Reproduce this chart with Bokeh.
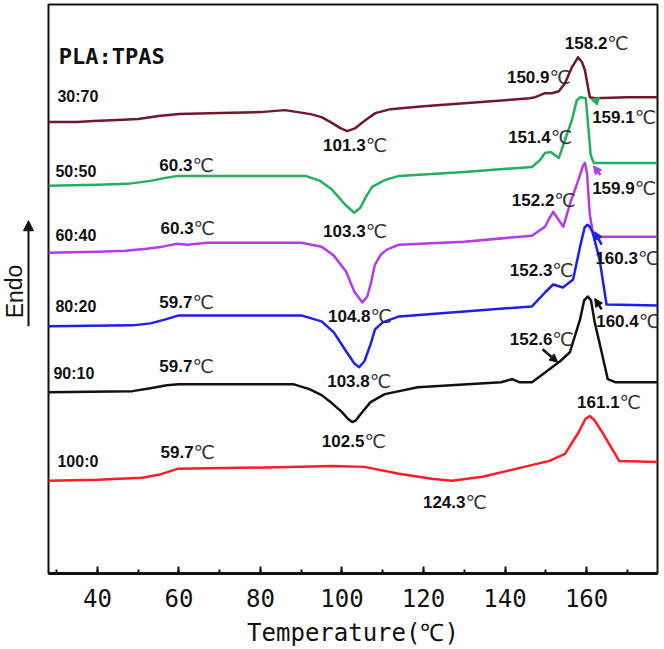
from bokeh.plotting import figure
from bokeh.layouts import row
from bokeh.models import Range1d, SingleIntervalTicker, Arrow, NormalHead
from bokeh.core.properties import value
from bokeh.embed import file_html
from bokeh.resources import INLINE

# ---- data (temperature in degC, heat flow in arbitrary offset units) ----
s3070_T = [28, 35, 39, 45, 50, 55, 60, 70, 80, 86, 92.3, 95, 97.2, 99.6, 101.3, 103.3, 105.8, 108.2, 111.9,
           120, 130, 140, 146, 147.4, 149.8, 151.5, 153.2, 154.7, 156.4, 157.9, 158.9, 159.6, 160.8, 162, 170, 177.4]
s3070_v = [45.3, 45.3, 45.4, 45.5, 45.6, 45.9, 46.1, 46.2, 46.3, 46.5, 46.1, 45.8, 45.3, 44.7, 44.4, 44.7, 45.5,
           46.2, 46.6, 46.9, 47.2, 47.5, 47.7, 47.8, 48.2, 48.2, 48.4, 49.2, 50.8, 51.8, 51.3, 50.5, 47.8, 47.7,
           47.8, 47.8]

s5050_T = [28, 40, 47.4, 53, 56.7, 59.6, 70, 91, 94.7, 97.6, 100.8, 103, 104.5, 106, 107.4, 110.6, 114, 130,
           146.6, 148.6, 149.8, 151.2, 153.2, 154.7, 156.4, 157.6, 158.5, 159.8, 160.5, 161, 161.8, 177.4]
s5050_v = [38.9, 39.0, 39.1, 39.4, 39.7, 39.9, 39.9, 39.9, 39.4, 38.5, 37.0, 36.2, 36.7, 37.9, 38.8, 39.5, 39.9,
           40.3, 40.8, 41.5, 42.2, 42.3, 41.7, 43.5, 45.5, 47.5, 47.8, 47.7, 44.5, 42.0, 41.2, 41.2]

s6040_T = [28, 40, 47, 52, 56, 59.6, 62, 67, 90, 95, 98, 101, 103, 105, 106.2, 107, 108.1, 109.5, 111, 114, 130,
           146.6, 149.8, 150.8, 151.8, 154.3, 156, 158, 159.1, 159.6, 160.1, 160.8, 161.5, 162.5, 177.4]
s6040_v = [32.2, 32.3, 32.4, 32.6, 32.8, 33.1, 33.0, 33.2, 33.2, 32.8, 31.9, 30.3, 28.3, 27.2, 27.8, 29.0, 31.0,
           32.0, 32.5, 33.0, 33.3, 33.9, 34.8, 35.6, 36.3, 34.8, 37.2, 39.5, 40.9, 41.2, 40.2, 36.0, 34.3, 33.8, 33.8]

s8020_T = [28, 48.6, 53, 56.7, 60, 90, 95, 98, 101, 103, 104.2, 105.5, 107, 108.1, 110, 114, 130, 146.6, 149.8,
           151.8, 154.2, 156.7, 158.4, 159.5, 160.2, 160.8, 161.5, 163.2, 164.9, 177.4]
s8020_v = [24.8, 24.9, 25.1, 25.5, 25.9, 25.9, 25.3, 24.2, 22.3, 21.1, 20.7, 21.3, 23.0, 24.5, 25.2, 25.8, 26.3,
           26.8, 28.2, 29.0, 28.7, 29.5, 32.8, 34.7, 35.0, 34.8, 34.2, 31.5, 27.0, 26.9]

s9010_T = [28, 48.6, 53, 57, 60, 88, 92, 95, 97.5, 100, 101.5, 102.5, 103.5, 104.2, 107, 110.5, 118.6, 139,
           141.7, 143.5, 146.6, 148.6, 153.5, 155.9, 158.4, 159.4, 160.3, 161.1, 162, 163.7, 165.2, 167, 177.4]
s9010_v = [18.2, 18.3, 18.6, 18.9, 19.0, 19.0, 18.5, 17.9, 17.1, 16.2, 15.5, 15.2, 15.4, 15.8, 17.2, 18.0, 18.7,
           19.2, 19.5, 19.2, 19.2, 19.8, 21.3, 22.2, 25.5, 27.4, 27.8, 27.4, 25.2, 22.2, 19.5, 19.2, 19.2]

s1000_T = [28, 40, 51, 55, 59.7, 75, 90, 97.6, 105.5, 114, 122, 127, 134.5, 142.6, 150.9, 154.7, 158.1, 159.7,
           160.8, 161.9, 163.8, 168, 177.4]
s1000_v = [9.3, 9.4, 9.6, 9.9, 10.5, 10.6, 10.7, 10.8, 10.7, 10.0, 9.5, 9.3, 9.7, 10.5, 11.3, 12.0, 14.2, 15.5,
           15.8, 15.4, 14.2, 11.3, 11.2]

series_names = ["30:70", "50:50", "60:40", "80:20", "90:10", "100:0"]
series_colors = ["#6E1A2C", "#22B05E", "#B43CE6", "#1E1EF0", "#111111", "#FF1E28"]

# sample-name labels (left x, centre y)
name_T = [30.2, 29.7, 29.7, 29.7, 29.2, 30.2]
name_v = [47.9, 40.3, 33.9, 26.8, 20.1, 11.2]

# peak / transition temperature annotations
ann_text = ["60.3", "101.3", "158.2", "150.9", "159.1", "151.4", "152.2", "159.9", "103.3", "60.3", "104.8",
            "160.3", "59.7", "152.3", "160.4", "103.8", "59.7", "152.6", "102.5", "161.1", "59.7", "124.3"]
ann_T = [63.3, 105.8, 165.1, 150.9, 171.8, 151.2, 152.1, 171.8, 105.8, 63.6, 107.0,
         172.6, 63.3, 151.6, 172.8, 106.8, 63.3, 151.6, 105.5, 168.1, 63.6, 130.3]
ann_v = [41.0, 43.0, 53.2, 49.8, 45.8, 43.8, 37.5, 38.7, 34.4, 34.7, 25.8,
         31.7, 27.2, 30.5, 25.3, 19.3, 20.8, 23.5, 13.3, 17.2, 12.2, 7.2]

# small pointer arrows (start -> end)
arr_x0 = [162.7, 163.4, 163.7, 163.7, 149.2]
arr_y0 = [47.4, 40.0, 33.0, 26.5, 22.5]
arr_x1 = [161.0, 161.7, 162.0, 162.0, 152.9]
arr_y1 = [47.6, 40.9, 34.3, 27.6, 21.2]
arr_colors = ["#22B05E", "#B43CE6", "#1E1EF0", "#111111", "#111111"]

Y_TOP = 57.1

# ---- left strip with the "Endo" arrow ----
left = figure(width=44, height=649, x_range=Range1d(0, 44), y_range=Range1d(0, Y_TOP),
              output_backend="svg", toolbar_location=None, x_axis_location=None, y_axis_location=None,
              min_border_left=0, min_border_right=0, min_border_top=4, min_border_bottom=74)
left.grid.visible = False
left.outline_line_color = None
left.add_layout(Arrow(end=NormalHead(size=10, fill_color="#111111", line_color="#111111"),
                      x_start=28, y_start=24.8, x_end=28, y_end=35.4, line_color="#111111", line_width=2))
left.text(x=[14], y=[28.3], text=["Endo"], angle=1.5708, text_font=value("Liberation Sans"),
          text_font_size="23px", text_color="#111111", text_align="center", text_baseline="middle")

# ---- main figure ----
p = figure(width=618, height=649, x_range=Range1d(28.0, 177.4), y_range=Range1d(0, Y_TOP),
           output_backend="svg", toolbar_location=None, y_axis_location=None,
           min_border_left=4, min_border_right=5, min_border_top=4, min_border_bottom=74)
p.grid.visible = False
p.outline_line_color = "#111111"
p.outline_line_width = 2

ax = p.xaxis[0]
ax.ticker = SingleIntervalTicker(interval=20, num_minor_ticks=2)
ax.major_tick_in = 7
ax.major_tick_out = 0
ax.minor_tick_in = 4
ax.minor_tick_out = 0
ax.axis_line_width = 3
ax.axis_line_color = "#111111"
ax.major_tick_line_width = 2
ax.minor_tick_line_width = 2
ax.major_tick_line_color = "#111111"
ax.minor_tick_line_color = "#111111"
ax.major_label_text_font = "DejaVu Sans Mono"
ax.major_label_text_font_size = "24px"
ax.major_label_text_color = "#111111"
ax.major_label_standoff = 15
ax.axis_label = "Temperature(℃)"
ax.axis_label_text_font = "DejaVu Sans Mono"
ax.axis_label_text_font_size = "24px"
ax.axis_label_text_font_style = "normal"
ax.axis_label_text_color = "#111111"
ax.axis_label_standoff = 9

all_T = [s3070_T, s5050_T, s6040_T, s8020_T, s9010_T, s1000_T]
all_v = [s3070_v, s5050_v, s6040_v, s8020_v, s9010_v, s1000_v]
for T, v, c in zip(all_T, all_v, series_colors):
    p.line(T, v, line_color=c, line_width=2.5, line_join="round")

# sample names
p.text(x=name_T, y=name_v, text=series_names, text_font=value("Liberation Sans"), text_font_style="bold",
       text_font_size="16px", text_color="#111111", text_baseline="middle", text_align="left")
p.text(x=[30.5], y=[51.9], text=["PLA:TPAS"], text_font=value("DejaVu Sans Mono"), text_font_style="bold",
       text_font_size="22px", text_color="#111111", text_baseline="middle", text_align="left")

# temperature annotations: bold number, thin degree sign
p.text(x=ann_T, y=ann_v, text=ann_text, text_font=value("Liberation Sans"), text_font_style="bold",
       text_font_size="17px", text_color="#111111", text_baseline="middle", text_align="right")
p.text(x=ann_T, y=ann_v, text=["℃"] * len(ann_T), text_font=value("DejaVu Sans"),
       text_font_size="19px", text_color="#333333", text_baseline="middle", text_align="left")

for x0, y0, x1, y1, c in zip(arr_x0, arr_y0, arr_x1, arr_y1, arr_colors):
    p.add_layout(Arrow(end=NormalHead(size=8, fill_color=c, line_color=c), x_start=x0, y_start=y0,
                       x_end=x1, y_end=y1, line_color=c, line_width=2.5))

layout = row(left, p, spacing=0)
open("out.html", "w").write(file_html(layout, INLINE))
